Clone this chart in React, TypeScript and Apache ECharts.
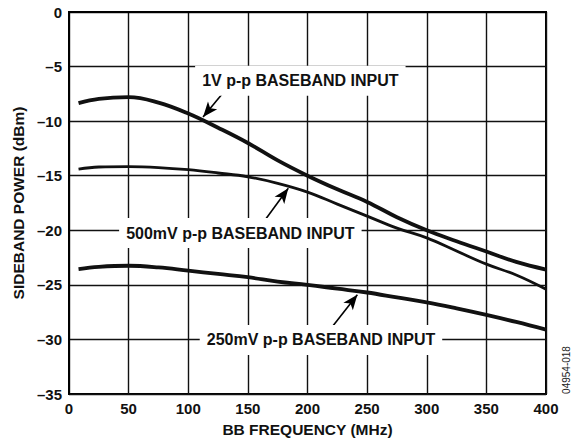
import React, { useEffect, useRef } from "react";
import * as echarts from "echarts";

const freqs = [8, 25, 50, 75, 100, 125, 150, 175, 200, 225, 250, 275, 300, 325, 350, 375, 400];
const v1000 = [-8.35, -7.95, -7.8, -8.3, -9.3, -10.6, -12.0, -13.6, -15.0, -16.25, -17.4, -18.8, -20.0, -21.0, -21.95, -22.9, -23.6];
const v500 = [-14.4, -14.2, -14.17, -14.25, -14.45, -14.75, -15.1, -15.7, -16.5, -17.6, -18.7, -19.8, -20.7, -21.9, -23.1, -24.1, -25.4];
const v250 = [-23.55, -23.35, -23.25, -23.4, -23.7, -24.0, -24.3, -24.7, -25.0, -25.35, -25.7, -26.15, -26.6, -27.15, -27.75, -28.4, -29.1];

const xTicks = { min: 0, max: 400, interval: 50 };
const yTicks = { min: -35, max: 0, interval: 5 };

const labels = [
  { text: "1V p-p BASEBAND INPUT", at: [194, -6.3] },
  { text: "500mV p-p BASEBAND INPUT", at: [143.7, -20.25] },
  { text: "250mV p-p BASEBAND INPUT", at: [211.3, -30.05] },
];
const arrows = [
  { from: [129.1, -7.42], to: [112.4, -9.62] },
  { from: [164.4, -19.05], to: [183.9, -16.15] },
  { from: [221.1, -28.8], to: [241.8, -25.9] },
];

const FONT = "'Liberation Sans', Arial, sans-serif";

export default function App() {
  const ref = useRef<HTMLDivElement>(null);
  useEffect(() => {
    const chart = echarts.init(ref.current!, null, { renderer: "svg" });
    const mk = (vals: number[], w: number) => ({
      type: "line",
      smooth: 0.4,
      symbol: "none",
      data: freqs.map((f, i) => [f, vals[i]]),
      lineStyle: { color: "#111", width: w },
      z: 3,
    });
    chart.setOption({
      animation: false,
      grid: {
        left: 69, right: 27, top: 12, bottom: 48,
        show: true, borderColor: "#000", borderWidth: 2,
      },
      xAxis: {
        type: "value", ...xTicks,
        name: "BB FREQUENCY (MHz)", nameLocation: "middle", nameGap: 27,
        nameTextStyle: { fontFamily: FONT, fontWeight: "bold", fontSize: 15.5, color: "#111" },
        axisLine: { show: true, lineStyle: { color: "#000", width: 2 } },
        axisTick: { show: false },
        axisLabel: { fontFamily: FONT, fontWeight: "bold", fontSize: 15, color: "#111", margin: 7 },
        splitLine: { show: true, lineStyle: { color: "#111", width: 1.4 } },
      },
      yAxis: {
        type: "value", ...yTicks,
        name: "SIDEBAND POWER (dBm)", nameLocation: "middle", nameGap: 42, nameRotate: 90,
        nameTextStyle: { fontFamily: FONT, fontWeight: "bold", fontSize: 15.5, color: "#111" },
        axisLine: { show: true, lineStyle: { color: "#000", width: 2 } },
        axisTick: { show: false },
        axisLabel: {
          fontFamily: FONT, fontWeight: "bold", fontSize: 15, color: "#111", margin: 7,
          formatter: (v: number) => String(v).replace("-", "–"),
        },
        splitLine: { show: true, lineStyle: { color: "#111", width: 1.4 } },
      },
      series: [
        {
          ...mk(v1000, 3.8),
          markLine: {
            silent: true,
            symbol: ["none", "arrow"],
            symbolSize: [9, 15],
            label: { show: false },
            lineStyle: { color: "#000", width: 1.6, type: "solid" },
            data: arrows.map((a) => [{ coord: a.from }, { coord: a.to }]),
          },
          markPoint: {
            silent: true,
            symbol: "rect",
            symbolSize: 0,
            data: labels.map((l) => ({ coord: l.at, value: l.text })),
            label: {
              show: true, position: "inside", formatter: (p: any) => p.value,
              fontFamily: FONT, fontWeight: "bold", fontSize: 16, color: "#111",
              backgroundColor: "#fff", padding: [7, 7],
            },
          },
        },
        mk(v500, 2.8),
        mk(v250, 3.8),
      ],
      graphic: [
        {
          type: "text", x: 566, y: 370, rotation: Math.PI / 2,
          style: { text: "04954-018", font: `10px ${FONT}`, fill: "#222", align: "center", verticalAlign: "middle" },
        },
      ],
    });
    return () => chart.dispose();
  }, []);
  return <div ref={ref} style={{ position: "fixed", left: 0, top: 0, width: 573, height: 442, background: "#fff" }} />;
}
